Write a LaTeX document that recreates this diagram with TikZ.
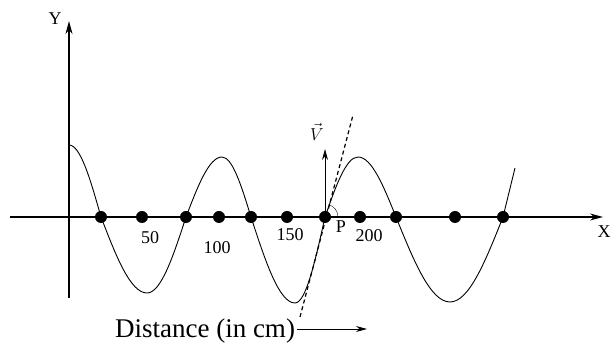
\documentclass[tikz,border=0pt]{standalone}
\usepackage{fontspec}
\setmainfont{Liberation Serif}
\usetikzlibrary{arrows.meta}

\begin{document}
\begin{tikzpicture}[x=1pt, y=1pt,
    axis/.style={->, >={Stealth[length=13pt,width=7pt]}, line width=1.1pt},
    arrow/.style={->, >={Stealth[length=11pt,width=6pt]}, line width=0.9pt},
    wave/.style={line width=0.9pt},
    particle/.style={circle, fill=black, inner sep=0pt, minimum size=12pt},
    lbl/.style={font=\fontsize{18}{21}\selectfont, inner sep=1pt}
]
\useasboundingbox (-69,-127) rectangle (546,217);

% Axes
\coordinate (xtail) at (-59,0);
\coordinate (xtip) at (534,0);
\coordinate (ytail) at (0,-81);
\coordinate (ytip) at (0,196);
\draw[axis] (xtail) -- (xtip);
\draw[axis] (ytail) -- (ytip);
\node[lbl] (ylabel) at (-14,198) {Y};
\node[lbl] (xlabel) at (535,-15) {X};

% Wave
\draw[wave] (0,72) cos (32,0) sin (78,-76) cos (117,0) sin (153,60) cos (182,0)
    sin (226,-86) cos (256,0) sin (289,60) cos (327,0) sin (381,-85) cos (434,0) -- (446,49);

% Particles
\foreach \px [count=\i] in {32,73,117,150,182,218,256,291,327,386,434}
    \node[particle] (d\i) at (\px,0) {};

% Distance marks
\node[lbl] (m50) at (81,-21) {50};
\node[lbl] (m100) at (148,-31) {100};
\node[lbl] (m150) at (221,-18) {150};
\node[lbl] (m200) at (300,-19) {200};

% Point P, tangent and velocity
\node[lbl] (plabel) at (272,-10) {P};
\coordinate (tlo) at (231,-100);
\coordinate (thi) at (284,102);
\draw[line width=1.2pt, dash pattern=on 4pt off 3pt] (tlo) -- (thi);
\draw (d7.center) ++(13,0) arc[start angle=0, end angle=75, radius=13];
\coordinate (vtip) at (256,68);
\draw[arrow] (d7.center) -- (vtip);
\node[lbl] (vlabel) at (248,85) {$\vec{V}$};

% Distance label
\node[anchor=base, font=\fontsize{27}{30}\selectfont, inner sep=2pt] (dist) at (136,-121) {Distance (in cm)};
\coordinate (distend) at (298,-112);
\draw[arrow] (dist.east |- distend) -- (distend);

\end{tikzpicture}
\end{document}
